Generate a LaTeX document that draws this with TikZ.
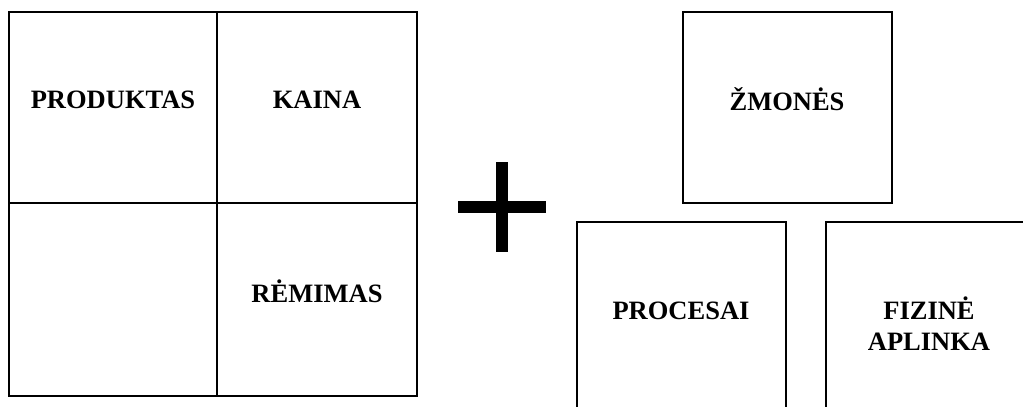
\documentclass[tikz,border=0pt]{standalone}
\usepackage{fontspec}
\setmainfont{Liberation Serif}

\tikzset{
  box/.style={line width=1.6pt},
  lbl/.style={font=\fontsize{26.5}{31}\selectfont\bfseries, align=center, anchor=base, inner sep=0pt},
}

\begin{document}
\begin{tikzpicture}[x=1pt, y=-1pt]
  \useasboundingbox (0,0) rectangle (1023,407);
  \clip (0,0) rectangle (1023,407);

  % 4P grid
  \draw[box] (9,12) rectangle (417,396);
  \draw[box] (217,12) -- (217,396);
  \draw[box] (9,203) -- (417,203);
  \node[lbl] (produktas) at (113,108) {PRODUKTAS};
  \node[lbl] (kaina) at (317,108) {KAINA};
  \node[lbl] (remimas) at (317,302) {RĖMIMAS};

  % plus
  \coordinate (plus) at (502,207);
  \draw[line width=12pt] ([xshift=-44pt]plus) -- ([xshift=44pt]plus);
  \draw[line width=12pt] ([yshift=45pt]plus) -- ([yshift=-45pt]plus);

  % extra 3P
  \draw[box] (683,12) rectangle (892,203);
  \draw[box] (577,420) -- (577,222) -- (786,222) -- (786,420);
  \draw[box] (826,420) -- (826,222) -- (1040,222);
  \node[lbl] (zmones) at (787,110) {ŽMONĖS};
  \node[lbl] (procesai) at (681,319) {PROCESAI};
  \node[lbl] (aplinka) at (929,350) {FIZINĖ\\APLINKA};
\end{tikzpicture}
\end{document}
